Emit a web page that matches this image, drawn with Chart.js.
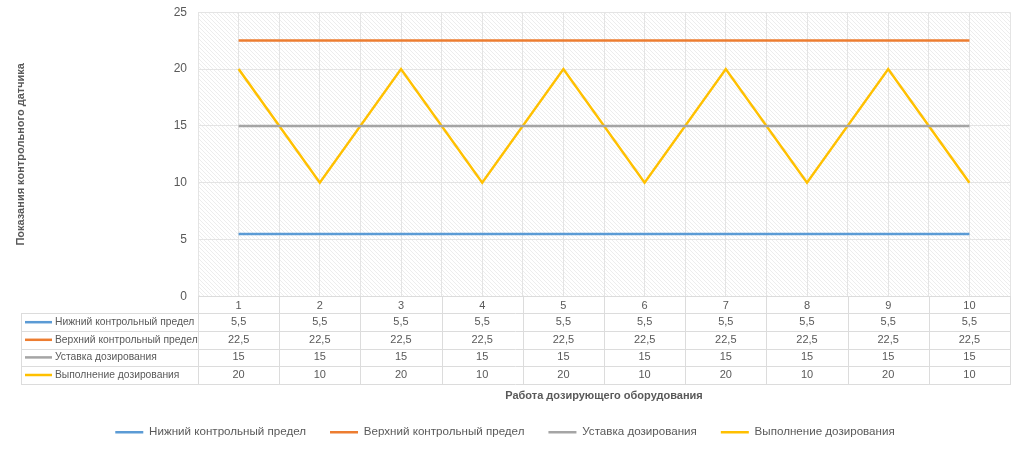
<!DOCTYPE html>
<html lang="ru">
<head>
<meta charset="utf-8">
<script src="https://cdn.jsdelivr.net/npm/chart.js@4.4.1/dist/chart.umd.min.js"></script>
<style>
    html, body { margin: 0; padding: 0; background: #fff; }
    #wrap { width: 1024px; height: 449px; position: relative; }
</style>
</head>
<body>
<div id="wrap"><canvas id="controlChart"></canvas></div>
<script>
// Данные графика
const categories = ["1", "2", "3", "4", "5", "6", "7", "8", "9", "10"];
const lowerLimit = [5.5, 5.5, 5.5, 5.5, 5.5, 5.5, 5.5, 5.5, 5.5, 5.5];
const upperLimit = [22.5, 22.5, 22.5, 22.5, 22.5, 22.5, 22.5, 22.5, 22.5, 22.5];
const setpoint = [15, 15, 15, 15, 15, 15, 15, 15, 15, 15];
const actualDosing = [20, 10, 20, 10, 20, 10, 20, 10, 20, 10];
const seriesNames = ["Нижний контрольный предел", "Верхний контрольный предел", "Уставка дозирования", "Выполнение дозирования"];
const seriesColors = ["#5B9BD5", "#ED7D31", "#A5A5A5", "#FFC000"];
const yTicks = [0, 5, 10, 15, 20, 25];
const yTitle = "Показания контрольного датчика";
const xTitle = "Работа дозирующего оборудования";

const FONT = "'Liberation Sans', Arial, sans-serif";
const TEXT = "#595959";
const GRID = "#e4e4e4";
const seriesData = [lowerLimit, upperLimit, setpoint, actualDosing];

// Штриховка фона области построения
const hatchPlugin = {
    id: "hatch",
    beforeDraw(chart) {
        const { ctx, chartArea: a } = chart;
        const tile = document.createElement("canvas");
        tile.width = 4;
        tile.height = 4;
        const t = tile.getContext("2d");
        t.fillStyle = "#ffffff";
        t.fillRect(0, 0, 4, 4);
        t.fillStyle = "#ededed";
        for (let i = 0; i < 4; i++) t.fillRect(i, i, 1, 1);
        ctx.save();
        ctx.fillStyle = ctx.createPattern(tile, "repeat");
        ctx.fillRect(a.left, a.top, a.right - a.left, a.bottom - a.top);
        ctx.restore();
    },
};

// Таблица данных под осью X
const tablePlugin = {
    id: "dataTable",
    afterDraw(chart) {
        const { ctx, chartArea: a } = chart;
        const x = chart.scales.x;
        const top = a.bottom;
        const headBottom = top + 17;
        const rowH = 17.6;
        const left = 21;
        const bottom = headBottom + seriesData.length * rowH;
        const half = (x.getPixelForTick(1) - x.getPixelForTick(0)) / 2;

        ctx.save();
        ctx.strokeStyle = "#dcdcdc";
        ctx.lineWidth = 1;
        ctx.beginPath();
        ctx.moveTo(a.left, Math.round(top) + 0.5);
        ctx.lineTo(a.right, Math.round(top) + 0.5);
        for (let r = 0; r <= seriesData.length; r++) {
            const y = Math.round(headBottom + r * rowH) + 0.5;
            ctx.moveTo(left, y);
            ctx.lineTo(a.right, y);
        }
        ctx.moveTo(left + 0.5, Math.round(headBottom));
        ctx.lineTo(left + 0.5, Math.round(bottom) + 1);
        for (let i = 0; i <= categories.length; i++) {
            const px = Math.round(x.getPixelForTick(0) - half + i * half * 2) + 0.5;
            ctx.moveTo(px, Math.round(top));
            ctx.lineTo(px, Math.round(bottom) + 1);
        }
        ctx.stroke();

        ctx.fillStyle = TEXT;
        ctx.textBaseline = "middle";
        seriesData.forEach((values, r) => {
            const cy = headBottom + r * rowH + rowH / 2;
            ctx.strokeStyle = seriesColors[r];
            ctx.lineWidth = 2.5;
            ctx.beginPath();
            ctx.moveTo(25, cy);
            ctx.lineTo(52, cy);
            ctx.stroke();
            ctx.font = "10.3px " + FONT;
            ctx.textAlign = "left";
            ctx.fillText(seriesNames[r], 55, cy);
            ctx.font = "11px " + FONT;
            ctx.textAlign = "center";
            values.forEach((v, i) => {
                ctx.fillText(String(v).replace(".", ","), x.getPixelForTick(i), cy);
            });
        });
        ctx.restore();
    },
};

new Chart(document.getElementById("controlChart"), {
    type: "line",
    data: {
        labels: categories,
        datasets: seriesNames.map((name, i) => ({
            label: name,
            data: seriesData[i],
            borderColor: seriesColors[i],
            backgroundColor: seriesColors[i],
            borderWidth: 2.5,
            pointRadius: 0,
            tension: 0,
            fill: false,
        })),
    },
    options: {
        responsive: true,
        maintainAspectRatio: false,
        animation: false,
        layout: { padding: { top: 5, right: 14, bottom: 1, left: 0 } },
        plugins: {
            tooltip: { enabled: false },
            legend: {
                position: "bottom",
                labels: {
                    usePointStyle: true,
                    pointStyle: "line",
                    pointStyleWidth: 28,
                    boxWidth: 28,
                    padding: 24,
                    color: TEXT,
                    font: { family: FONT, size: 11.6 },
                },
            },
        },
        scales: {
            x: {
                offset: true,
                grid: { offset: true, color: GRID, drawTicks: false },
                border: { display: false },
                ticks: { color: TEXT, padding: 3, font: { family: FONT, size: 11 } },
                title: {
                    display: true,
                    text: xTitle,
                    color: TEXT,
                    padding: { top: 0, bottom: 0 },
                    font: { family: FONT, size: 11, weight: "bold" },
                },
                afterFit(scale) { scale.height = 106; },
            },
            x2: {
                type: "category",
                position: "bottom",
                offset: true,
                grid: { offset: false, color: GRID, drawTicks: false },
                border: { display: false },
                ticks: { display: false },
                afterFit(scale) { scale.height = 0; },
            },
            y: {
                min: 0,
                max: 25,
                afterBuildTicks(scale) { scale.ticks = yTicks.map(v => ({ value: v })); },
                grid: { color: GRID, drawTicks: true, tickLength: 6, tickColor: "rgba(0,0,0,0)" },
                border: { display: false },
                ticks: { color: TEXT, padding: 5, font: { family: FONT, size: 12 } },
                title: {
                    display: true,
                    text: yTitle,
                    color: TEXT,
                    padding: { top: 14, bottom: 0 },
                    font: { family: FONT, size: 11, weight: "bold" },
                },
                afterFit(scale) { scale.width = 198; },
            },
        },
    },
    plugins: [hatchPlugin, tablePlugin],
});
</script>
</body>
</html>
